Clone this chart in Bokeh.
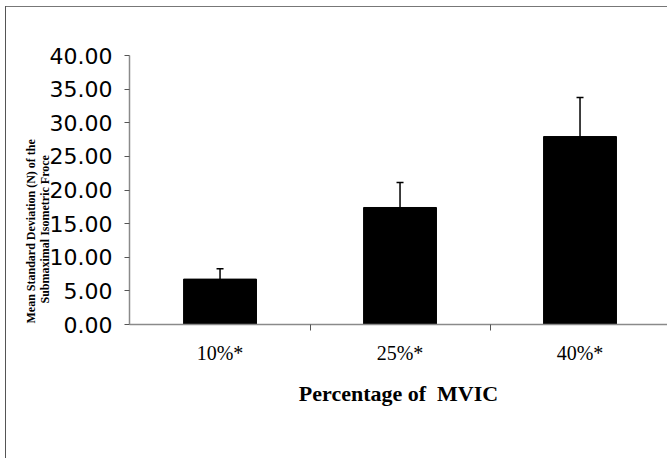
from bokeh.plotting import figure
from bokeh.models import (FixedTicker, NumeralTickFormatter, Whisker, ColumnDataSource,
                          TeeHead, Range1d, Title)
from bokeh.embed import file_html
from bokeh.resources import INLINE

# ---- data ----
categories = ["10%*", "25%*", "40%*"]
means = [6.75, 17.4, 27.95]
sds = [1.55, 3.7, 5.8]
y_ticks = [0, 5, 10, 15, 20, 25, 30, 35, 40]
x_title = "Percentage of\u00a0 MVIC"
y_title_1 = "Mean Standard Deviation (N) of the"
y_title_2 = "Submaximal Isometric Froce"

xs = list(range(1, len(categories) + 1))
upper = [m + s for m, s in zip(means, sds)]
src = ColumnDataSource(dict(x=xs, top=means, upper=upper))

X0, X1 = 0.497, 3.486
p = figure(width=667, height=458, output_backend="svg", toolbar_location=None,
           x_range=Range1d(X0, X1), y_range=Range1d(0, 40),
           min_border_left=129, min_border_right=0, min_border_top=55,
           min_border_bottom=134)
p.styles = {"background": "linear-gradient(#555555,#555555) 5px 6px / 1px 452px no-repeat, "
                          "linear-gradient(#777777,#777777) 5px 6px / 662px 1px no-repeat, white"}
p.outline_line_color = None
p.xgrid.grid_line_color = None
p.ygrid.grid_line_color = None
p.background_fill_color = "white"
p.border_fill_color = None

p.vbar(x="x", top="top", bottom=0, width=0.405, source=src,
       fill_color="black", line_color="black")

wh = Whisker(base="x", lower="top", upper="upper", source=src, dimension="height",
             line_color="black", line_width=1.5, lower_head=None,
             upper_head=TeeHead(size=7, line_color="black", line_width=1.5),
             level="overlay")
p.add_layout(wh)

# x axis
xa = p.xaxis[0]
xa.ticker = FixedTicker(ticks=xs, minor_ticks=[1.5, 2.5])
xa.major_label_overrides = {i: c for i, c in zip(xs, categories)}
xa.major_tick_out = 0
xa.major_tick_in = 0
xa.minor_tick_out = 6
xa.minor_tick_in = 0
xa.minor_tick_line_color = "#555555"
xa.axis_line_color = "#8a8a8a"
xa.axis_line_width = 1.5
xa.major_label_text_font = "Liberation Serif"
xa.major_label_text_font_size = "20px"
xa.major_label_text_color = "black"
xa.major_label_standoff = 11
xa.axis_label = x_title
xa.axis_label_text_font = "Liberation Serif"
xa.axis_label_text_font_style = "bold"
xa.axis_label_text_font_size = "22px"
xa.axis_label_text_color = "black"
xa.axis_label_standoff = 14

# y axis
ya = p.yaxis[0]
ya.ticker = FixedTicker(ticks=y_ticks, minor_ticks=[])
ya.formatter = NumeralTickFormatter(format="0.00")
ya.major_tick_out = 5
ya.major_tick_in = 0
ya.major_tick_line_color = "#555555"
ya.axis_line_color = "#8a8a8a"
ya.axis_line_width = 1.5
ya.major_label_text_font = "DejaVu Sans"
ya.major_label_text_font_size = "22px"
ya.major_label_text_color = "black"
ya.major_label_standoff = 12

# two-line y title as stacked left-side titles (inner line first)
for txt, off, so in [(y_title_2, 21, -11), (y_title_1, 1, 8)]:
    p.add_layout(Title(text=txt, align="left", offset=off, standoff=so,
                       text_font="Liberation Serif", text_font_style="bold",
                       text_font_size="12px", text_color="black"), "left")

open("out.html", "w").write(file_html(p, INLINE))
